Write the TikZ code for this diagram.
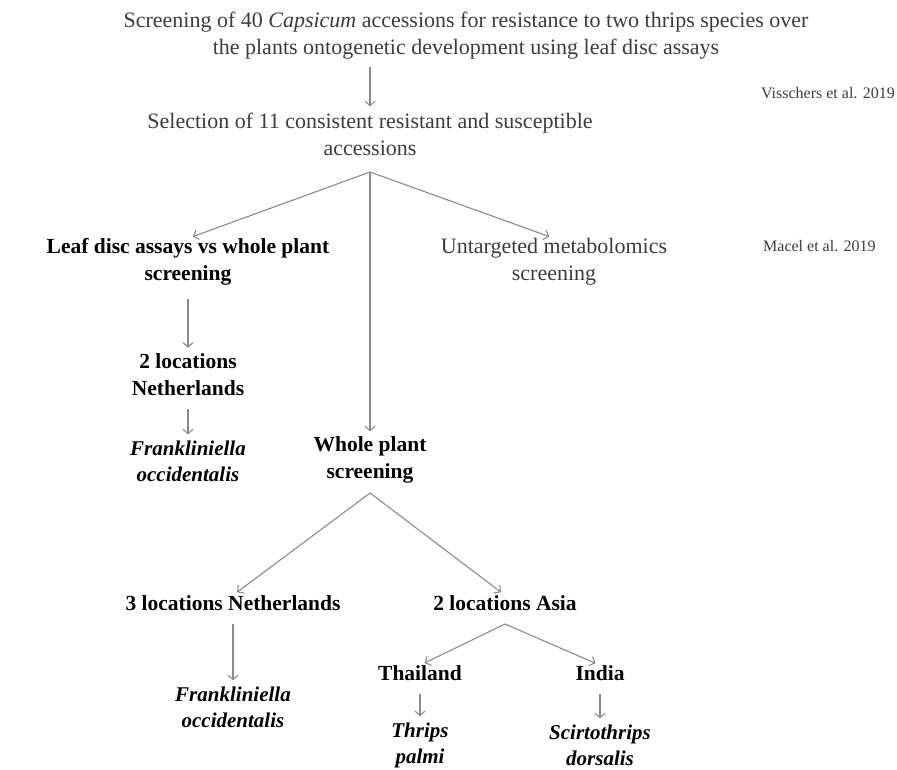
\documentclass[tikz,border=0pt]{standalone}
\usepackage{fontspec}
\setmainfont{Liberation Serif}
\usetikzlibrary{arrows.meta,calc}
\definecolor{txtgray}{HTML}{3C3C3C}
\definecolor{arrgray}{HTML}{8A8A8A}
\begin{document}
\begin{tikzpicture}[x=1pt,y=-1pt,
  plain/.style={align=center,text=txtgray,font=\fontsize{22}{27}\selectfont,inner sep=0pt},
  boldt/.style={align=center,text=black,font=\fontsize{21.5}{27}\selectfont\bfseries,inner sep=0pt},
  spec/.style={align=center,text=black,font=\fontsize{21}{26}\selectfont\bfseries\itshape,inner sep=0pt},
  cite/.style={text=txtgray,font=\fontsize{16}{20}\selectfont,inner sep=0pt},
  arr/.style={draw=arrgray,line width=1.1pt,-{Straight Barb[length=4.5pt,width=10pt]}},
  diag/.style={arr,shorten >=5pt},
  vert/.style={arr,shorten <=13pt,shorten >=6pt}
]
\useasboundingbox (0,0) rectangle (897,770);
\node[plain] (title) at (466,36) {Screening of 40 \textit{Capsicum} accessions for resistance to two thrips species over\\ the plants ontogenetic development using leaf disc assays};
\node[cite,anchor=east] (viss) at (895,93) {Visschers et al. 2019};
\node[plain] (sel) at (370,134) {Selection of 11 consistent resistant and susceptible\\ accessions};
\coordinate (s1) at (370,172);
\node[boldt] (leaf) at (188,262) {Leaf disc assays vs whole plant\\ screening};
\node[plain] (untarg) at (554,262) {Untargeted metabolomics\\ screening};
\node[cite,anchor=west] (macel) at (763,246) {Macel et al. 2019};
\node[boldt] (loc2nl) at (188,375) {2 locations\\ Netherlands};
\node[spec] (frank1) at (188,461) {Frankliniella\\ occidentalis};
\node[boldt] (whole) at (370,460) {Whole plant\\ screening};
\coordinate (s2) at (370,493);
\node[boldt] (loc3nl) at (233,603) {3 locations Netherlands};
\node[boldt] (asia) at (505,603) {2 locations Asia};
\node[spec] (frank2) at (233,707) {Frankliniella\\ occidentalis};
\coordinate (s3) at (505,624);
\node[boldt] (thai) at (420,673) {Thailand};
\node[boldt] (india) at (600,673) {India};
\node[spec] (thrips) at (420,745) {Thrips\\ palmi};
\node[spec] (scirto) at (600,745) {Scirtothrips\\ dorsalis};

\draw[arr,shorten <=7pt,shorten >=6pt] (title.south -| sel.north) -- (sel.north);
\draw[diag] (s1) -- (leaf.north);
\draw[diag] (s1) -- (untarg.north);
\draw[diag] (s1) -- (whole.north);
\draw[vert] (leaf.south) -- (loc2nl.north);
\draw[vert] (loc2nl.south) -- (frank1.north);
\draw[diag] (s2) -- (loc3nl.north);
\draw[diag] (s2) -- (asia.north);
\draw[vert] (loc3nl.south) -- (frank2.north);
\draw[diag] (s3) -- (thai.north);
\draw[diag] (s3) -- (india.north);
\draw[vert] (thai.south) -- (thrips.north);
\draw[vert] (india.south) -- (scirto.north);
\end{tikzpicture}
\end{document}
